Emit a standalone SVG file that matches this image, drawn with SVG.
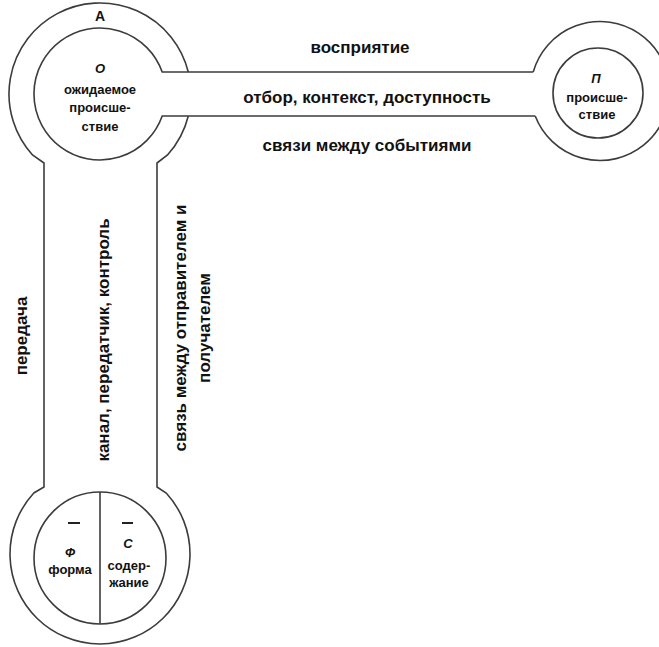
<svg xmlns="http://www.w3.org/2000/svg" width="659" height="647" viewBox="0 0 659 647">
<style>
.ln{fill:none;stroke:#3c3c3c;stroke-width:1.6}
.t{font-family:"Liberation Sans",Arial,sans-serif;font-weight:bold;fill:#111;text-anchor:middle}
.lab{font-size:17px}
.nd{font-size:13px}
.it{font-style:italic}
.bar{stroke:#222;stroke-width:2}
</style>
<rect width="659" height="647" fill="#ffffff"/>
<g id="connectors">
<path class="ln" d="M533.2,72 L162.2,72 A66 66 0 1 0 162.2,116 L535.2,116"/>
<path class="ln" d="M188.3,116 A91 91 0 0 1 167.5,155 L157,163 L157,487 L166.2,493 A90 90 0 1 1 33.8,493 L44,487 L44,163 L32.5,155 A91 91 0 1 1 188.3,72"/>
</g>
<g id="nodeA">
<text class="t" x="100" y="21" font-size="14" font-weight="normal" style="font-weight:600">A</text>
<text class="t nd it" x="100" y="73">О</text>
<text class="t nd" x="100" y="94">ожидаемое</text>
<text class="t nd" x="100" y="112">происше-</text>
<text class="t nd" x="100" y="131">ствие</text>
</g>
<g id="nodeP">
<path class="ln" d="M533.2,72 A69.5 69.5 0 1 1 535.2,116"/>
<circle class="ln" cx="598" cy="93" r="45"/>
<text class="t nd it" x="596" y="83">П</text>
<text class="t nd" x="597" y="102">происше-</text>
<text class="t nd" x="597" y="119">ствие</text>
</g>
<g id="nodeFC">
<circle class="ln" cx="100" cy="558" r="66"/>
<line class="ln" x1="100" y1="492" x2="100" y2="624"/>
<line class="bar" x1="68" y1="523" x2="80" y2="523"/>
<line class="bar" x1="122" y1="523" x2="133" y2="523"/>
<text class="t nd it" x="70" y="557">Ф</text>
<text class="t nd" x="70" y="574">форма</text>
<text class="t nd it" x="128" y="548">С</text>
<text class="t nd" x="129" y="570">содер-</text>
<text class="t nd" x="129" y="587">жание</text>
</g>
<g id="labels">
<text class="t lab" x="360" y="53">восприятие</text>
<text class="t lab" x="367" y="103">отбор, контекст, доступность</text>
<text class="t lab" x="367" y="151">связи между событиями</text>
<text class="t lab" transform="translate(27,336) rotate(-90)">передача</text>
<text class="t lab" transform="translate(109,340) rotate(-90)">канал, передатчик, контроль</text>
<text class="t lab" transform="translate(186,328) rotate(-90)">связь между отправителем и</text>
<text class="t lab" transform="translate(210,328) rotate(-90)">получателем</text>
</g>
</svg>
